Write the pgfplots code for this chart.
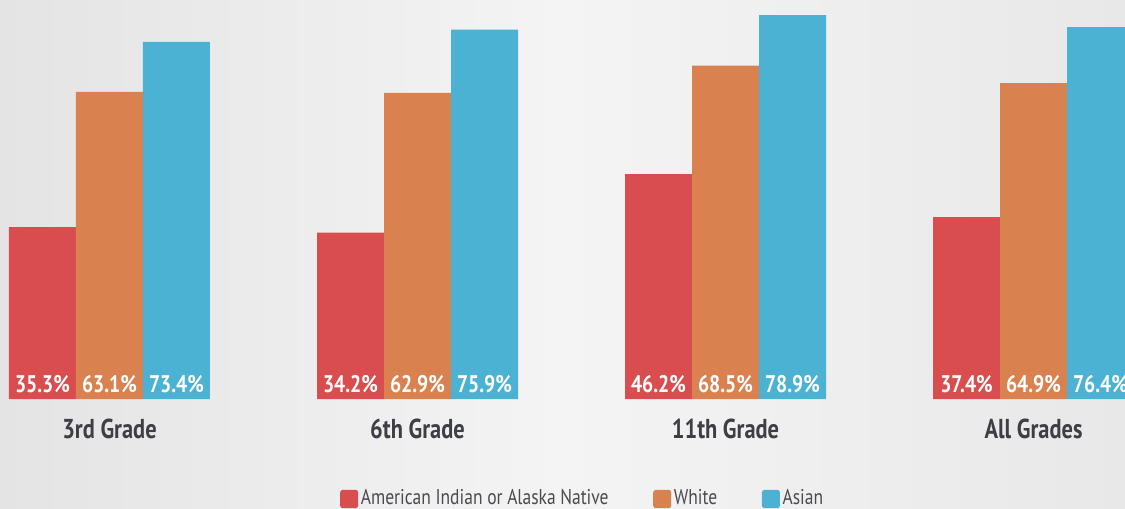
\documentclass[border=0pt]{standalone}
\usepackage{pgfplots}
\pgfplotsset{compat=1.18}
\usepackage{fontspec}
\setmainfont{PT Sans}[FakeStretch=0.82]
\definecolor{cRed}{HTML}{DA4D4E}
\definecolor{cOrange}{HTML}{DA824F}
\definecolor{cBlue}{HTML}{4BB2D3}
\definecolor{cText}{HTML}{3E3E46}
\definecolor{cLeg}{HTML}{4A4A50}
\definecolor{bgL}{HTML}{E4E4E4}
\definecolor{bgM}{HTML}{F4F4F4}
\definecolor{bgR}{HTML}{E8E8E8}
\begin{document}
\begin{tikzpicture}
\path[use as bounding box] (0,0) rectangle (843.75pt,381pt);
\clip (0,0) rectangle (843.75pt,381pt);
\shade[left color=bgL, right color=bgR, middle color=bgM] (0,0) rectangle (843.75pt,381pt);
\begin{axis}[
  at={(0pt,0pt)}, anchor=south west,
  scale only axis, width=843.75pt, height=381pt,
  xmin=-0.3555, xmax=3.2971, ymin=-22.40, ymax=82.0,
  axis line style={draw=none}, tick style={draw=none}, major tick length=0pt,
  ytick=\empty,
  xtick={0,1,2,3},
  xticklabels={3rd Grade, 6th Grade, 11th Grade, All Grades},
  xticklabel style={anchor=base, yshift=52.5pt, text=cText, font=\bfseries\fontsize{20.5}{20.5}\selectfont},
  ybar, bar width=0.21753,
  visualization depends on=y \as \rawy,
  nodes near coords={\pgfmathprintnumber[assume math mode=true,fixed,fixed zerofill,precision=1]{\pgfplotspointmeta}\%},
  every node near coord/.append style={shift={(axis direction cs:0,-\rawy)}, anchor=base, yshift=5.25pt, text=white, font=\bfseries\fontsize{18}{18}\selectfont},
  legend columns=3,
  legend style={at={(axis description cs:0.5182,0)}, anchor=south, yshift=-2.8pt, draw=none, fill=none,
    font=\fontsize{16}{16}\selectfont, text=cLeg,
    /tikz/every even column/.append style={column sep=31.5pt}},
  legend image code/.code={\fill[#1, rounded corners=2pt] (0pt,-8pt) rectangle (13.5pt,5.8pt);},
]
\addplot[fill=cRed, draw=none, bar shift=-0.21753] coordinates {(0,35.3) (1,34.2) (2,46.2) (3,37.4)};
\addplot[fill=cOrange, draw=none, bar shift=0] coordinates {(0,63.1) (1,62.9) (2,68.5) (3,64.9)};
\addplot[fill=cBlue, draw=none, bar shift=0.21753] coordinates {(0,73.4) (1,75.9) (2,78.9) (3,76.4)};
\legend{American Indian or Alaska Native, White, Asian}
\end{axis}
\end{tikzpicture}
\end{document}
